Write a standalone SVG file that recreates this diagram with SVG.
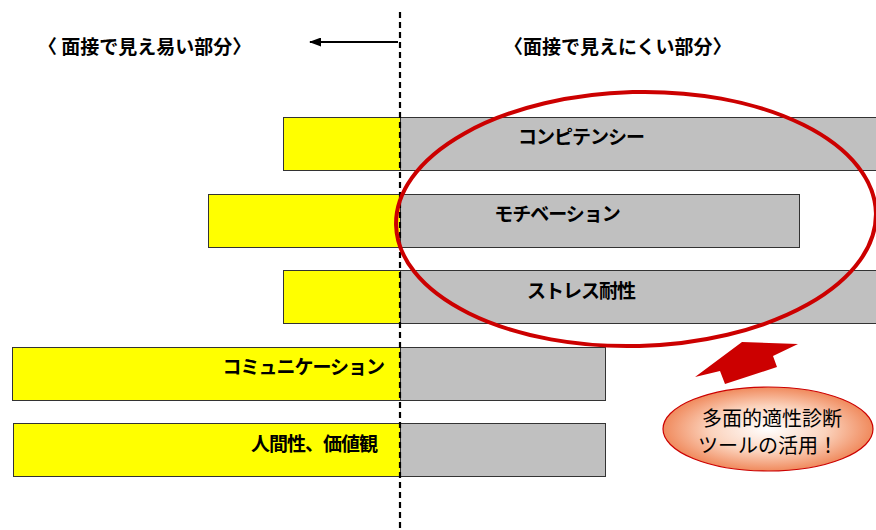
<svg xmlns="http://www.w3.org/2000/svg" width="876" height="530" viewBox="0 0 876 530">
<defs>
<style>
.y{fill:#ffff00;stroke:#333;stroke-width:1}
.g{fill:#c0c0c0;stroke:#333;stroke-width:1}
.lb{font-family:"Noto Sans CJK JP","Liberation Sans",sans-serif;font-weight:bold;font-size:19px;fill:#000;letter-spacing:-1px}
.hd{font-family:"Noto Sans CJK JP","Liberation Sans",sans-serif;font-weight:bold;font-size:19px;fill:#000}
.ct{font-family:"Noto Sans CJK JP","Liberation Sans",sans-serif;font-size:20px;fill:#000}
</style>
<marker id="ah" markerWidth="12" markerHeight="9" refX="11" refY="4.5" orient="auto" markerUnits="userSpaceOnUse">
<path d="M0,0 L12,4.5 L0,9 Z" fill="#000"/>
</marker>
<radialGradient id="og" cx="50%" cy="50%" r="50%">
<stop offset="0" stop-color="#ffffff"/>
<stop offset="0.55" stop-color="#fbd3bd"/>
<stop offset="1" stop-color="#f08a5d"/>
</radialGradient>
</defs>
<rect width="876" height="530" fill="#fff"/>
<g id="headers">
<text class="hd" x="38" y="54">〈 面接で見え易い部分〉</text>
<text class="hd" x="504" y="54">〈面接で見えにくい部分〉</text>
</g>
<g id="bar1">
<rect class="y" x="283.5" y="117.5" width="117" height="53"/>
<rect class="g" x="400.5" y="117.5" width="480" height="53"/>
<text class="lb" x="581" y="144" text-anchor="middle">コンピテンシー</text>
</g>
<g id="bar2">
<rect class="y" x="208.5" y="194.5" width="192" height="53"/>
<rect class="g" x="400.5" y="194.5" width="399" height="53"/>
<text class="lb" x="557" y="221" text-anchor="middle">モチベーション</text>
</g>
<g id="bar3">
<rect class="y" x="283.5" y="270.5" width="117" height="53"/>
<rect class="g" x="400.5" y="270.5" width="480" height="53"/>
<text class="lb" x="581" y="298" text-anchor="middle">ストレス耐性</text>
</g>
<g id="bar4">
<rect class="y" x="12.5" y="347.5" width="388" height="53"/>
<rect class="g" x="400.5" y="347.5" width="205" height="53"/>
<text class="lb" x="384" y="374" text-anchor="end">コミュニケーション</text>
</g>
<g id="bar5">
<rect class="y" x="13.5" y="423.5" width="387" height="53"/>
<rect class="g" x="400.5" y="423.5" width="205" height="53"/>
<text class="lb" x="377" y="451" text-anchor="end">人間性、価値観</text>
</g>
<g id="connectors">
<line x1="400" y1="12" x2="400" y2="530" stroke="#000" stroke-width="2.2" stroke-dasharray="6,4"/>
<line x1="398" y1="42" x2="310" y2="42" stroke="#000" stroke-width="2" marker-end="url(#ah)"/>
</g>
<g id="highlight">
<ellipse cx="636" cy="219" rx="240" ry="127" transform="rotate(-1.5 636 219)" fill="none" stroke="#cc0000" stroke-width="4"/>
<polygon points="695,377 742,342 798,344 773,356 777,367 725,384 720,371" fill="#cc0000"/>
</g>
<g id="tool">
<ellipse cx="768" cy="429" rx="105" ry="42" fill="url(#og)" stroke="#cc0000" stroke-width="1.2"/>
<text class="ct" x="772" y="426" text-anchor="middle">多面的適性診断</text>
<text class="ct" x="768" y="453" text-anchor="middle">ツールの活用！</text>
</g>
</svg>
